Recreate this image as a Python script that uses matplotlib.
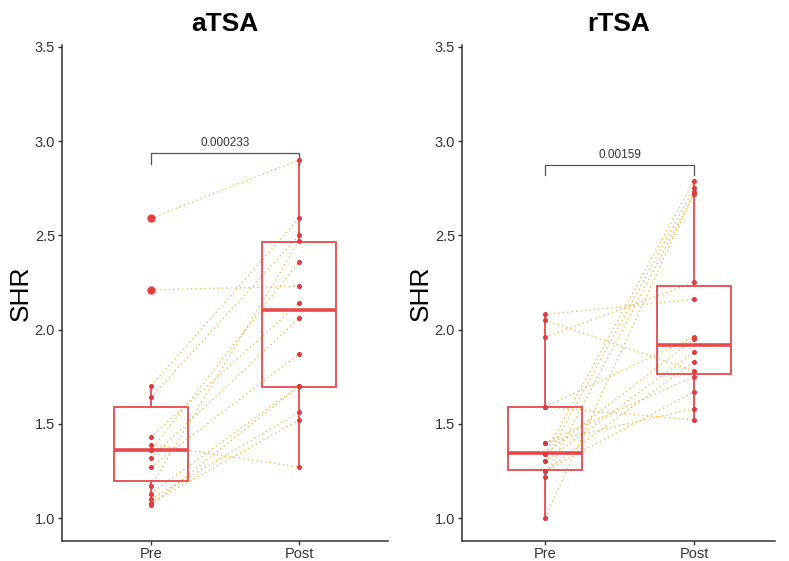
import matplotlib
matplotlib.use("Agg")
import matplotlib.pyplot as plt

plt.rcParams['font.family'] = ['Liberation Sans', 'DejaVu Sans']

groups = ["Pre", "Post"]
titles = ["aTSA", "rTSA"]
p_labels = ["0.000233", "0.00159"]
y_ticks = [1.0, 1.5, 2.0, 2.5, 3.0, 3.5]

# paired values (Pre -> Post)
a_pre = [2.59, 2.21, 1.70, 1.64, 1.43, 1.39, 1.36, 1.32, 1.27, 1.17, 1.13, 1.10, 1.08, 1.07]
a_post = [2.90, 2.23, 2.59, 2.50, 2.14, 1.27, 2.36, 2.06, 1.87, 2.47, 1.70, 1.56, 1.52, 1.70]
r_pre = [2.08, 2.05, 1.96, 1.59, 1.59, 1.40, 1.34, 1.34, 1.30, 1.30, 1.25, 1.25, 1.22, 1.00, 1.40]
r_post = [2.16, 1.78, 2.25, 1.96, 1.52, 1.58, 1.95, 2.79, 1.88, 2.75, 1.83, 1.67, 2.72, 2.73, 1.75]

# box statistics: whisker low, q1, median, q3, whisker high
a_box = [[1.07, 1.197, 1.36, 1.587, 1.70], [1.27, 1.695, 2.103, 2.466, 2.90]]
r_box = [[1.00, 1.254, 1.344, 1.59, 2.076], [1.516, 1.762, 1.917, 2.229, 2.793]]
a_fliers = [[2.59, 2.21], []]
r_fliers = [[], []]

# bracket heights (bar, tick end)
a_bracket = [2.936, 2.877]
r_bracket = [2.872, 2.82]

red = "#E8484C"
orange = "#F4B342"
dark = "#333333"

fig = plt.figure(figsize=(7.89, 5.61), dpi=100)
ax1 = fig.add_axes([62/789, 20/561, 326/789, 496/561])
ax2 = fig.add_axes([462/789, 20/561, 313/789, 496/561])

panels = [
    (ax1, a_pre, a_post, a_box, a_fliers, a_bracket, (0.4, 2.6)),
    (ax2, r_pre, r_post, r_box, r_fliers, r_bracket, (0.443, 2.543)),
]

for i, (ax, pre, post, box, fl, br, xl) in enumerate(panels):
    for a, b in zip(pre, post):
        ax.plot([1, 2], [a, b], ls=(0, (1, 2.2)), color=orange, lw=1.0, alpha=0.9, zorder=1)
    stats = []
    for k in range(2):
        lo, q1, med, q3, hi = box[k]
        stats.append(dict(whislo=lo, q1=q1, med=med, q3=q3, whishi=hi, fliers=fl[k]))
    ax.bxp(stats, positions=[1, 2], widths=0.5, showcaps=False, patch_artist=True,
           boxprops=dict(facecolor="none", edgecolor=red, lw=1.3),
           medianprops=dict(color=red, lw=2.6),
           whiskerprops=dict(color=red, lw=1.3),
           flierprops=dict(marker="o", markersize=5, markerfacecolor=red,
                           markeredgecolor=red), zorder=2)
    ax.plot([1] * len(pre), pre, "o", color="#E03A40", markersize=2.6, zorder=3)
    ax.plot([2] * len(post), post, "o", color="#E03A40", markersize=2.6, zorder=3)

    # significance bracket
    ax.plot([1, 1, 2, 2], [br[1], br[0], br[0], br[1]], color="#555555", lw=0.9)
    ax.text(1.5, br[0] + 0.02, p_labels[i], ha="center", va="bottom", fontsize=8.5, color=dark)

    ax.set_xlim(*xl)
    ax.set_ylim(0.878, 3.51)
    ax.set_xticks([1, 2])
    ax.set_xticklabels(groups)
    ax.set_yticks(y_ticks)
    ax.set_yticklabels([f"{v:.1f}" for v in y_ticks])
    ax.tick_params(labelsize=10.5, colors=dark, length=3, width=1, pad=2)
    ax.tick_params(axis="x", pad=1)
    ax.spines[["top", "right"]].set_visible(False)
    for s in ["left", "bottom"]:
        ax.spines[s].set_color(dark)
        ax.spines[s].set_linewidth(1.1)
    ax.set_ylabel("SHR", fontsize=19, color="black", labelpad=1)
    ax.set_title(titles[i], fontsize=19, fontweight="bold", pad=10)

fig.savefig("out.png", dpi=100)
